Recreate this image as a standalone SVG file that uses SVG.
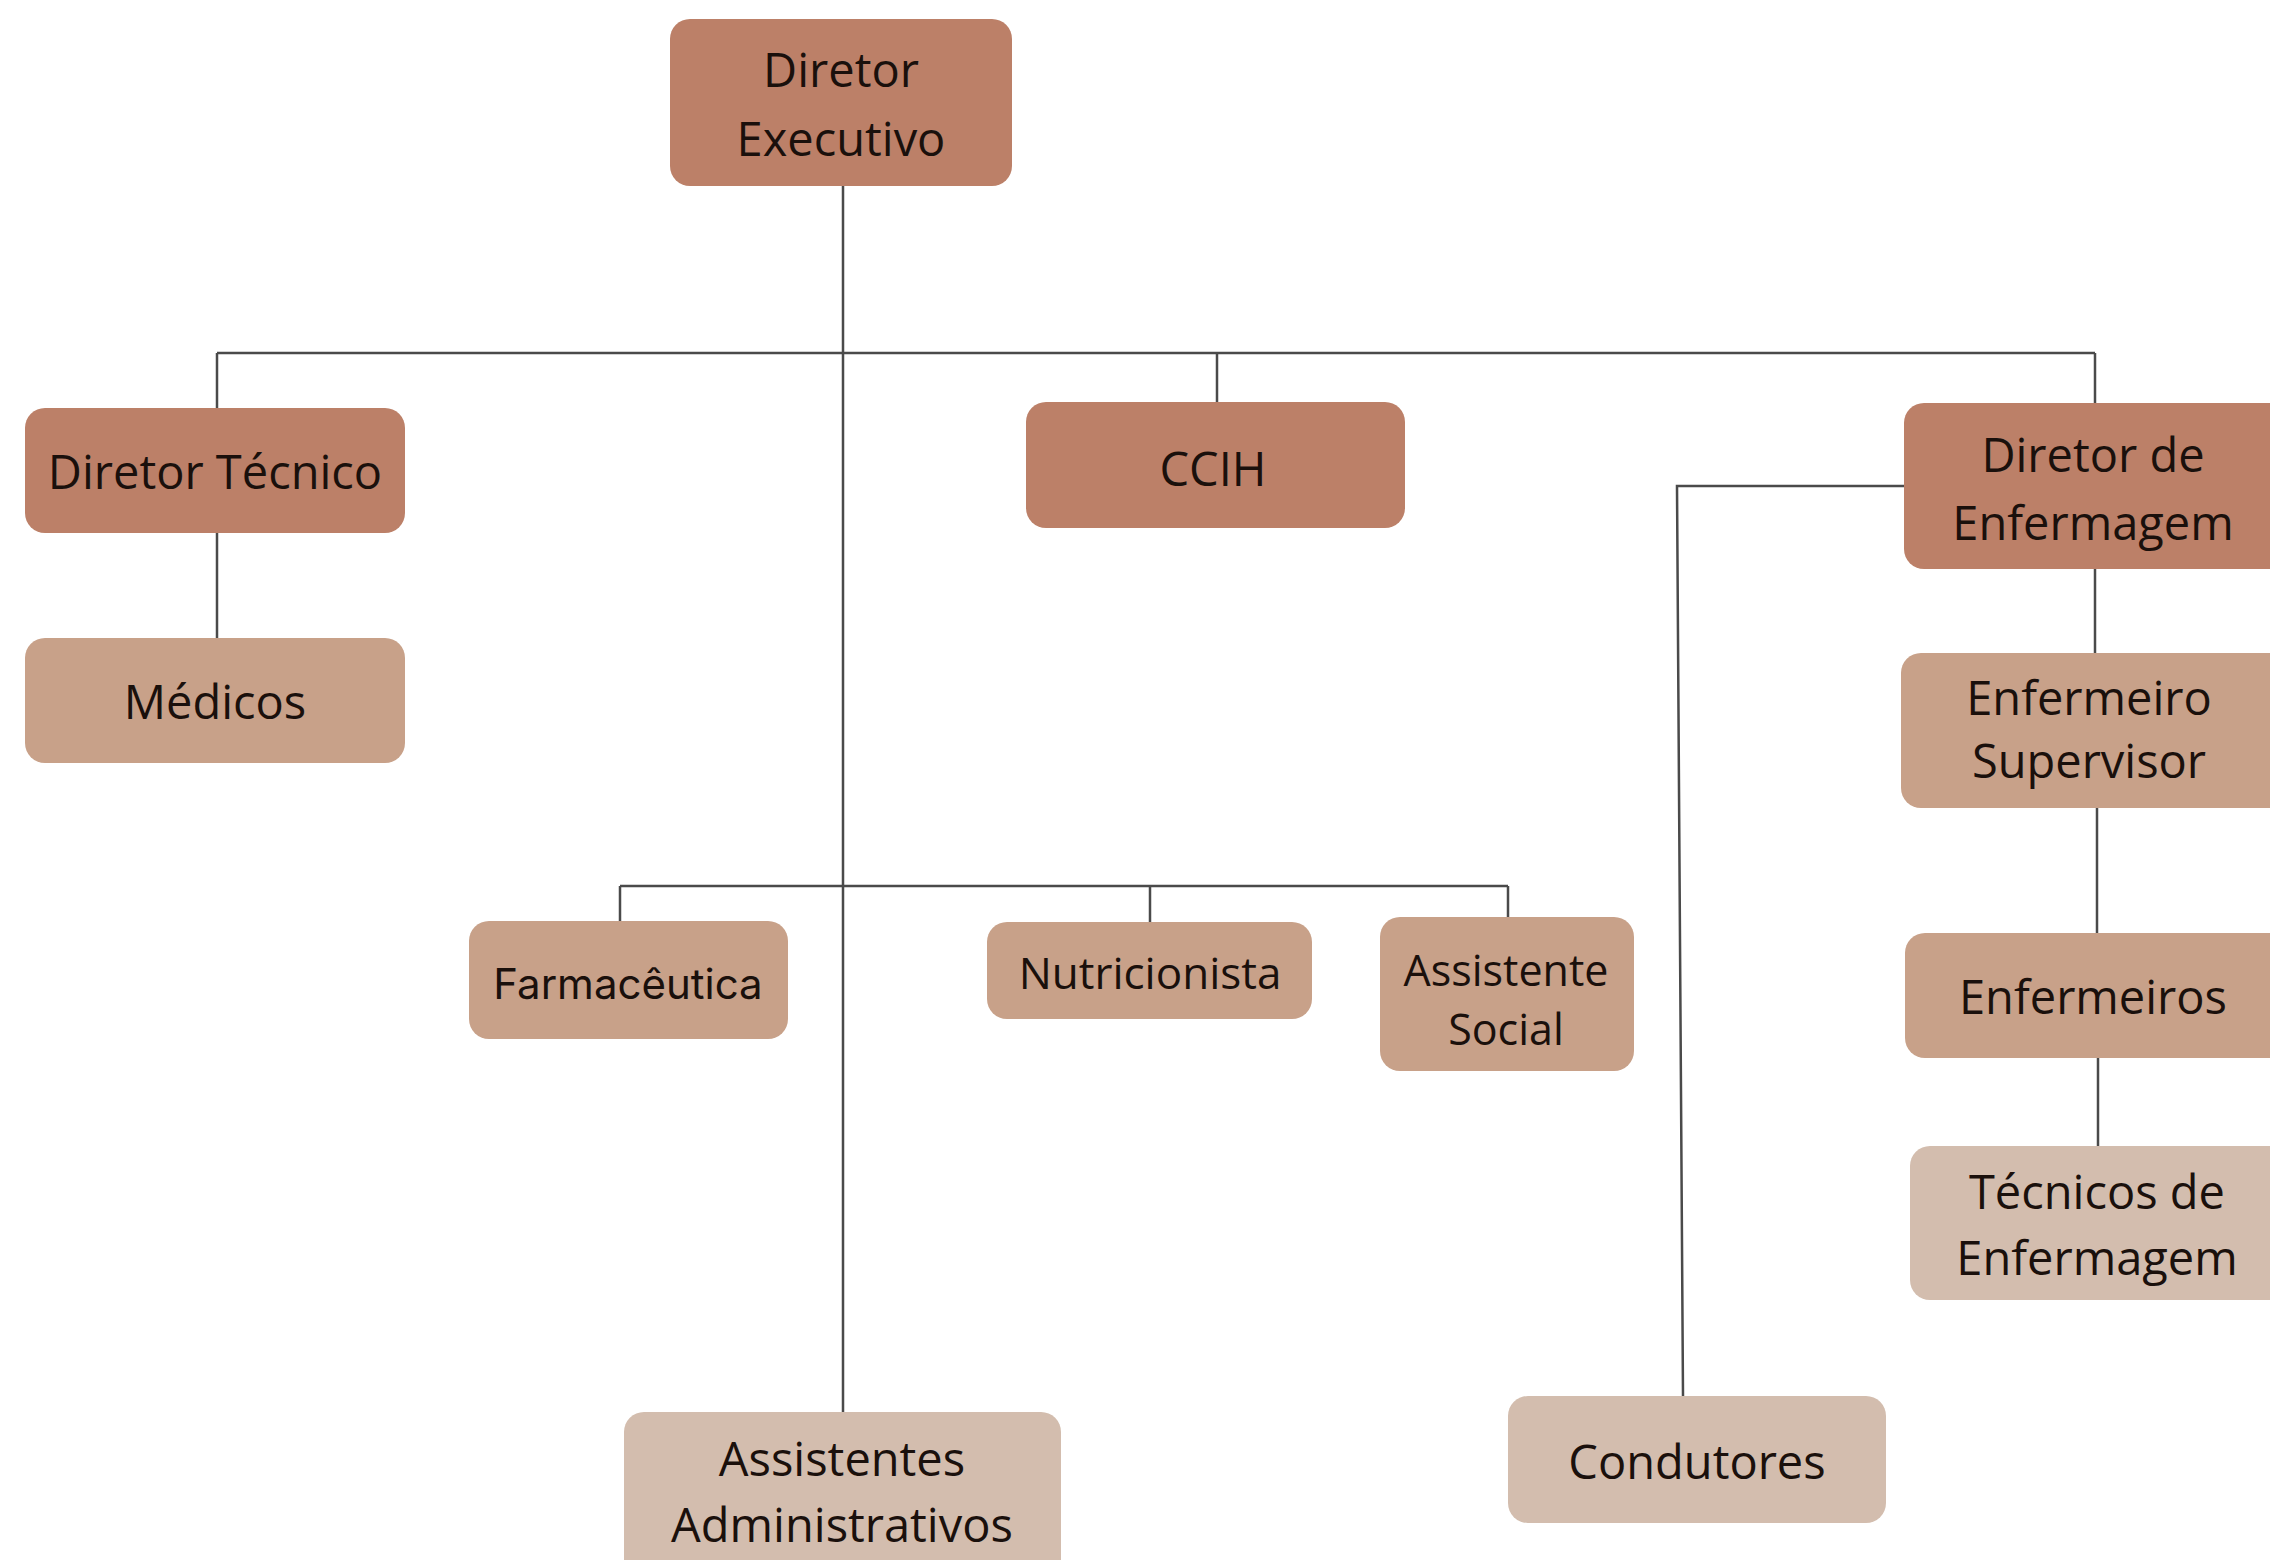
<svg xmlns="http://www.w3.org/2000/svg" width="2270" height="1560" viewBox="0 0 2270 1560">
<style>
.dark{fill:#bc8068}
.med{fill:#c8a189}
.light{fill:#d3bdae}
.t{font-family:"Open Sans","Liberation Sans",sans-serif;font-size:47px;fill:#1a100c;text-anchor:middle}
.s{font-family:"Inter","Liberation Sans",sans-serif;font-size:42px;fill:#1a100c;text-anchor:middle}
.c{fill:none;stroke:#4a4a4a;stroke-width:2.5}
</style>
<rect width="2270" height="1560" fill="#ffffff"/>
<g id="connectors">
<path class="c" d="M843 186 V1412"/>
<path class="c" d="M217 353 H2095"/>
<path class="c" d="M217 353 V408"/>
<path class="c" d="M217 533 V638"/>
<path class="c" d="M1217 353 V402"/>
<path class="c" d="M2095 353 V403"/>
<path class="c" d="M1904 486 H1677 L1683 1396"/>
<path class="c" d="M2095 568 V653"/>
<path class="c" d="M2097 808 V933"/>
<path class="c" d="M2098 1058 V1146"/>
<path class="c" d="M620 886 H1508"/>
<path class="c" d="M620 886 V921"/>
<path class="c" d="M1150 886 V922"/>
<path class="c" d="M1508 886 V917"/>
</g>
<g id="diretor-executivo">
<rect class="dark" x="670" y="19" width="342" height="167" rx="20"/>
<text class="t" x="841" y="87">Diretor</text>
<text class="t" x="841" y="156">Executivo</text>
</g>
<g id="diretor-tecnico">
<rect class="dark" x="25" y="408" width="380" height="125" rx="20"/>
<text class="t" x="215" y="489">Diretor Técnico</text>
</g>
<g id="medicos">
<rect class="med" x="25" y="638" width="380" height="125" rx="20"/>
<text class="t" x="215" y="719">Médicos</text>
</g>
<g id="ccih">
<rect class="dark" x="1026" y="402" width="379" height="126" rx="20"/>
<text class="t" x="1213" y="486">CCIH</text>
</g>
<g id="diretor-enfermagem">
<rect class="dark" x="1904" y="403" width="390" height="166" rx="20"/>
<text class="t" x="2093" y="472">Diretor de</text>
<text class="t" x="2093" y="540">Enfermagem</text>
</g>
<g id="enfermeiro-supervisor">
<rect class="med" x="1901" y="653" width="390" height="155" rx="20"/>
<text class="t" x="2089" y="715">Enfermeiro</text>
<text class="t" x="2089" y="778">Supervisor</text>
</g>
<g id="enfermeiros">
<rect class="med" x="1905" y="933" width="390" height="125" rx="20"/>
<text class="t" x="2093" y="1014">Enfermeiros</text>
</g>
<g id="tecnicos-enfermagem">
<rect class="light" x="1910" y="1146" width="390" height="154" rx="20"/>
<text class="t" x="2097" y="1209">Técnicos de</text>
<text class="t" x="2097" y="1275">Enfermagem</text>
</g>
<g id="farmaceutica">
<rect class="med" x="469" y="921" width="319" height="118" rx="20"/>
<text class="s" x="628" y="999">Farmacêutica</text>
</g>
<g id="nutricionista">
<rect class="med" x="987" y="922" width="325" height="97" rx="20"/>
<text class="t" x="1150" y="989" style="font-size:44px">Nutricionista</text>
</g>
<g id="assistente-social">
<rect class="med" x="1380" y="917" width="254" height="154" rx="20"/>
<text class="t" x="1506" y="986" style="font-size:43px">Assistente</text>
<text class="t" x="1506" y="1045" style="font-size:43px">Social</text>
</g>
<g id="assistentes-administrativos">
<rect class="light" x="624" y="1412" width="437" height="170" rx="20"/>
<text class="t" x="842" y="1476">Assistentes</text>
<text class="t" x="842" y="1542">Administrativos</text>
</g>
<g id="condutores">
<rect class="light" x="1508" y="1396" width="378" height="127" rx="20"/>
<text class="t" x="1697" y="1479">Condutores</text>
</g>
</svg>
